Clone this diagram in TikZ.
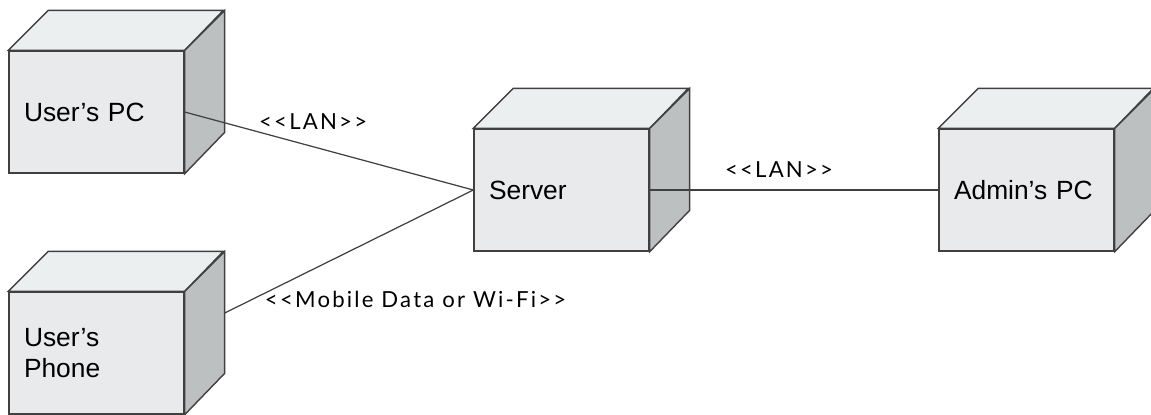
\documentclass[tikz,border=0pt]{standalone}
\usepackage{fontspec}
\usepackage{tikz}
\usetikzlibrary{positioning}
\setmainfont{Liberation Sans}
\newfontfamily\labelfont[LetterSpace=10]{Lato}

\definecolor{frontgray}{RGB}{232,234,235}
\definecolor{topgray}{RGB}{236,239,240}
\definecolor{sidegray}{RGB}{189,192,193}
\definecolor{edgegray}{RGB}{64,64,64}

\tikzset{
    devbox/.style = {draw=edgegray, fill=frontgray, line width=0.8pt,
        minimum width=3.5cm, minimum height=2.44cm, inner xsep=0.3cm,
        text width=2.9cm, align=left, font=\fontsize{15}{17.6}\selectfont},
    devface/.style = {draw=edgegray, line width=0.8pt},
    link/.style = {draw=edgegray, line width=0.7pt},
    stereo/.style = {font=\labelfont\fontsize{12.6}{15}\selectfont, text=black}
}

% deployment node with its top and side faces
\newcommand{\devnode}[3]{%
    \node[devbox] (#1) at (#2) {#3};
    \draw[devface, fill=topgray] (#1.north west) -- ++(40,-40) -- ++(175,0)
        -- (#1.north east) -- cycle;
    \draw[devface, fill=sidegray] (#1.north east) -- ++(40,-40) -- ++(0,122)
        -- (#1.south east) -- cycle;
    \coordinate (#1-back) at ([shift={(40,-40)}]#1.east);
}

\begin{document}
\begin{tikzpicture}[x=0.02cm, y=-0.02cm]
    \useasboundingbox (0,0) rectangle (1151,414);

    \devnode{pc}{96.5,112}{User’s PC}
    \devnode{phone}{96.5,353}{User’s\\Phone}
    \devnode{server}{561.5,190}{Server}
    \devnode{admin}{1026.5,190}{Admin’s PC}

    \path[link] (pc.east) -- node[stereo, pos=0.445, yshift=0.51cm] {<{}<LAN>{}>} (server.west);
    \path[link] (phone-back) -- node[stereo, pos=0.136, anchor=west, yshift=-0.06cm] {<{}<Mobile Data or Wi-Fi>{}>} (server.west);
    \path[link] (server.east) -- node[stereo, pos=0.448, yshift=0.4cm] {<{}<LAN>{}>} (admin.west);
\end{tikzpicture}
\end{document}
